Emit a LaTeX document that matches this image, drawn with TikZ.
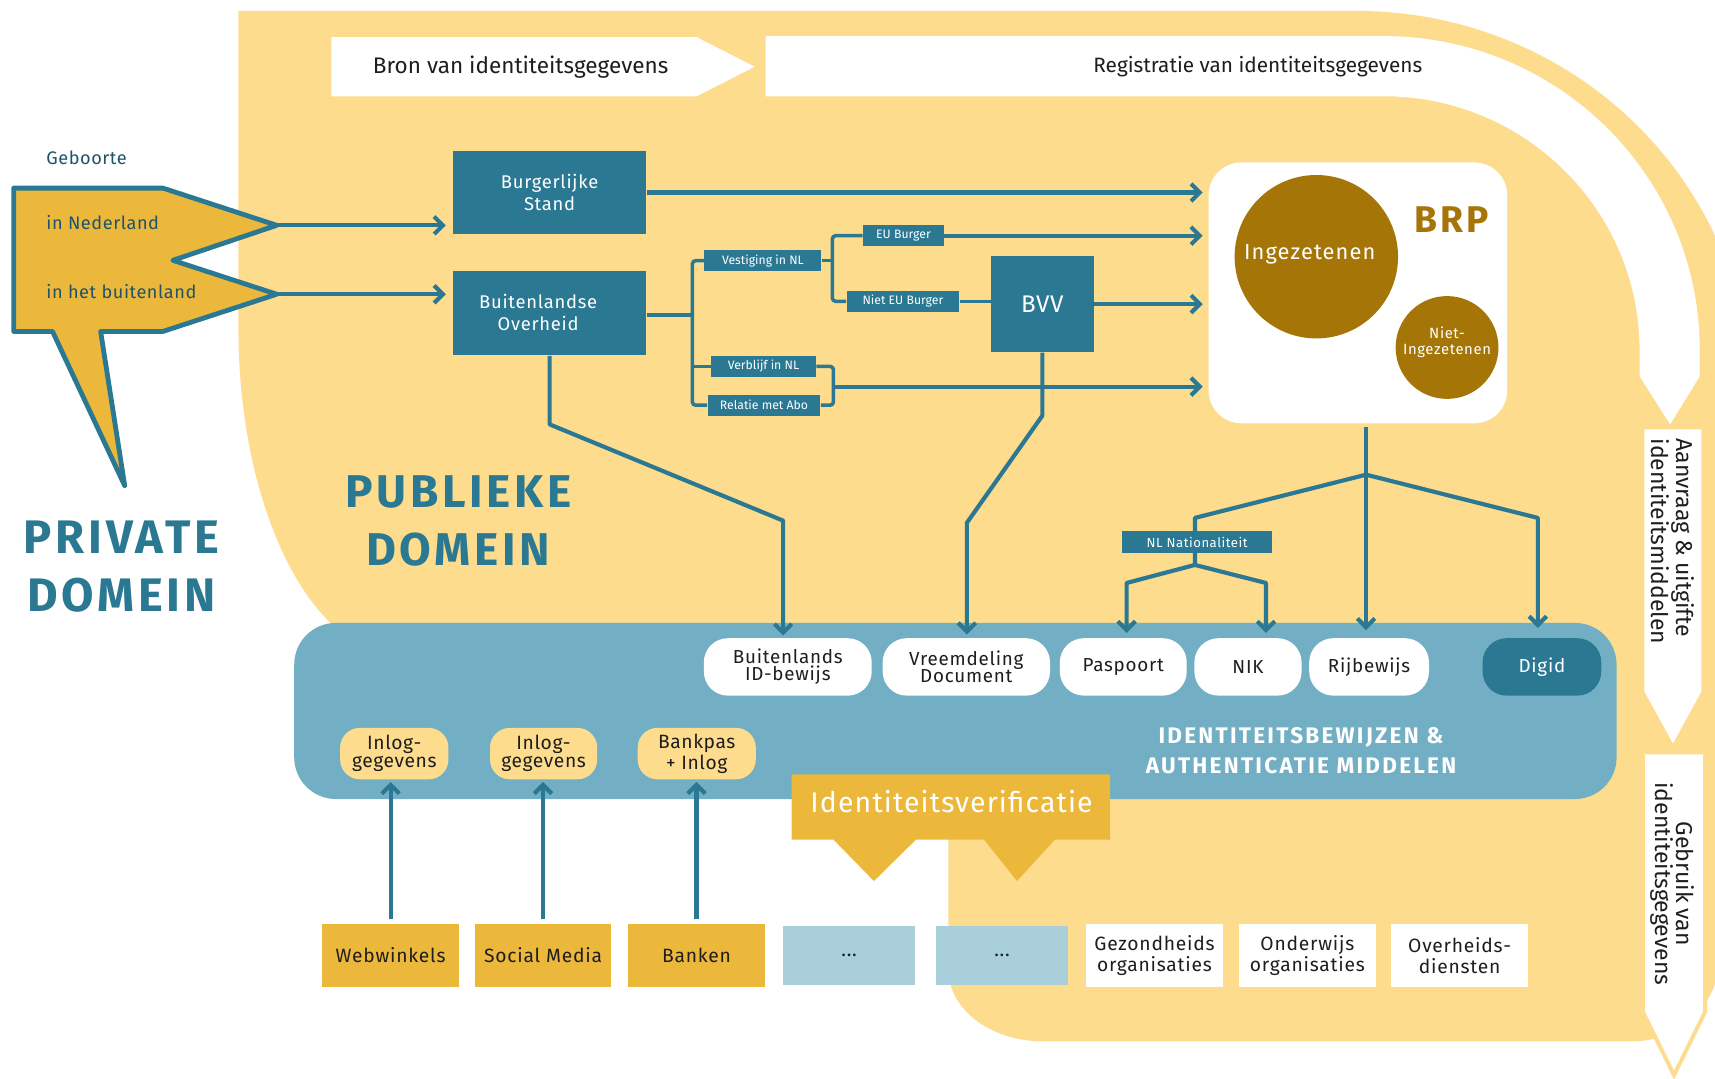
\documentclass[tikz,border=0pt]{standalone}
\usepackage{fontspec}
\setmainfont{Fira Sans}
\usetikzlibrary{arrows.meta}
\definecolor{ylight}{HTML}{FDDC8E}
\definecolor{ydark}{HTML}{ECB83C}
\definecolor{tealc}{HTML}{2B7893}
\definecolor{lblue}{HTML}{72AFC4}
\definecolor{pblue}{HTML}{A9D0DA}
\definecolor{goldc}{HTML}{A67508}
\definecolor{dtext}{HTML}{1E1E1E}
\definecolor{ttext}{HTML}{1F5468}
\newcommand{\fsz}[2]{\fontsize{#1}{#2}\selectfont}
\newcommand{\lsp}[1]{\addfontfeatures{LetterSpace=#1}}
\pgfdeclarelayer{back}
\pgfdeclarelayer{mid}
\pgfsetlayers{back,mid,main}
\begin{document}
\begin{tikzpicture}[x=0.5pt,y=-0.5pt,
  conn/.style={draw=tealc, line width=1.9pt, line join=round},
  thinc/.style={draw=tealc, line width=1.6pt, line join=round, rounded corners=1.5pt},
  arr/.style={-{Straight Barb[length=4pt,width=8pt]}},
  tealbox/.style={fill=tealc, text=white, inner sep=0pt},
  lab/.style={tealbox, font=\fsz{5.6}{6}},
  wbox/.style={fill=white, rounded corners=11pt, inner sep=0pt, text=dtext, align=center, font=\fsz{8.6}{7.9}\lsp{4}, minimum height=26.25pt},
  ybox/.style={fill=ylight, rounded corners=9pt, inner sep=0pt, text=dtext, align=center, font=\fsz{8.8}{8.3}\lsp{3}, minimum height=23.5pt},
  bbox/.style={inner sep=0pt, text=dtext, align=center, font=\fsz{8.8}{9.4}\lsp{4}, minimum height=28.5pt},
  rtext/.style={rotate=-90, text=dtext, font=\fsz{10.5}{9.75}},
  ptext/.style={anchor=base west, inner sep=0pt, text=ttext, font=\fsz{8.3}{10}\lsp{3}},
]
\useasboundingbox (0,0) rectangle (1568,986);

\begin{pgfonlayer}{back}
\fill[white] (0,0) rectangle (1568,986);
\begin{scope}
\clip (0,0) rectangle (1568,986);
\fill[ylight] (218,10) -- (1240,10) .. controls (1438.8,10) and (1600,166.7) .. (1600,360)
  -- (1600,800) -- (1573,830) -- (1573,872) .. controls (1573,916.2) and (1537.2,952) .. (1493,952)
  -- (953,952) .. controls (905.5,952) and (867,922.5) .. (867,886)
  -- (867,650) -- (368,650) -- (368,600) .. controls (285.2,600) and (218,465.7) .. (218,300) -- cycle;
% registratie band
\fill[white] (700,33) -- (1265,33) .. controls (1424.6,33) and (1554,161.5) .. (1554,320)
  -- (1554,344) -- (1527,388) -- (1499,344) -- (1499,320)
  .. controls (1499,191.9) and (1394.2,88) .. (1265,88) -- (700,88) -- cycle;
% bron arrow
\fill[white] (303,34) -- (637,34) -- (690,61) -- (637,88) -- (303,88) -- cycle;
% right arrows
\filldraw[fill=white, draw=ylight, line width=1.5pt] (1502,391) -- (1557,391) -- (1557,633) -- (1529.5,683) -- (1502,633) -- cycle;
\filldraw[fill=white, draw=ylight, line width=1.8pt] (1502,688) -- (1559,688) -- (1559,925) -- (1530.5,983) -- (1502,925) -- cycle;
\end{scope}
% big blue box
\node[fill=lblue, rounded corners=19pt, minimum width=604.5pt, minimum height=80.5pt, inner sep=0pt] (ib) at (873.5,650) {};
\end{pgfonlayer}

\node[text=dtext, font=\fsz{10.3}{12}] (bron) at (476,61) {Bron van identiteitsgegevens};
\node[text=dtext, font=\fsz{9.5}{12}] (reg) at (1150,61) {Registratie van identiteitsgegevens};

% private shape
\filldraw[fill=ydark, draw=tealc, line width=2.2pt, line join=round]
  (12.5,172) -- (149,172) -- (253,206) -- (158,238) -- (253,269) -- (149,303) -- (92,303) -- (114,444) -- (48,303) -- (12.5,303) -- cycle;
\coordinate (tipA) at (253,206);
\coordinate (tipB) at (253,269);
\node[ptext] (gb) at (42,150) {Geboorte};
\node[ptext] (inl) at (42,210) {in Nederland};
\node[ptext] (ibl) at (42,273) {in het buitenland};

\node[text=tealc, font=\bfseries\fsz{21.5}{26.5}\lsp{8}, align=center] (priv) at (111,518) {PRIVATE\\DOMEIN};
\node[text=tealc, font=\bfseries\fsz{21}{26.5}\lsp{8}, align=center] (publ) at (419,476) {PUBLIEKE\\DOMEIN};

% source boxes
\node[tealbox, minimum width=88.5pt, minimum height=38pt, align=center, font=\fsz{8.4}{10}\lsp{4}] (bs) at (502.5,176) {Burgerlijke\\Stand};
\node[tealbox, minimum width=88.5pt, minimum height=38.5pt] (bo) at (502.5,286.5) {};
\node[text=white, align=center, font=\fsz{8.4}{10}\lsp{4}] (botext) at (492,286) {Buitenlandse\\Overheid};

\node[lab, minimum width=53.5pt, minimum height=9.25pt] (vest) at (697.5,238.25) {Vestiging in NL};
\node[lab, minimum width=37pt, minimum height=9.5pt] (eu) at (826,215.5) {EU Burger};
\node[lab, minimum width=51.5pt, minimum height=9.5pt] (neu) at (825.5,275.5) {Niet EU Burger};
\node[tealbox, minimum width=47pt, minimum height=44pt, font=\fsz{11}{12}\lsp{3}] (bvv) at (953,278) {BVV};
\node[lab, minimum width=48pt, minimum height=9.5pt] (verb) at (698,335) {Verblijf in NL};
\node[lab, minimum width=51.5pt, minimum height=9.5pt] (rel) at (698.5,370.5) {Relatie met Abo};

% BRP
\node[fill=white, rounded corners=15pt, minimum width=136.5pt, minimum height=119.25pt, inner sep=0pt] (brp) at (1241.5,267.75) {};
\node[circle, fill=goldc, minimum size=74.7pt, inner sep=0pt] (inz) at (1203.5,234.7) {};
\node[anchor=base, text=white, font=\fsz{10}{12}\lsp{5}] (inzt) at (1197.5,237) {Ingezetenen};
\node[circle, fill=goldc, minimum size=47pt, inner sep=0pt] (niet) at (1323,317.7) {};
\node[text=white, align=center, font=\fsz{6.8}{7.5}\lsp{4}] (niett) at (1323,313) {Niet-\\Ingezetenen};
\node[anchor=base, text=goldc, font=\bfseries\fsz{17}{20}\lsp{8}] (brpt) at (1327.5,213) {BRP};

\node[tealbox, minimum width=68.5pt, minimum height=10pt, font=\fsz{6}{7}\lsp{4}] (nln) at (1094.5,495.5) {NL Nationaliteit};

% identity documents
\node[wbox, minimum width=76.75pt] (bid) at (720.25,609.75) {Buitenlands\\ID-bewijs};
\node[wbox, minimum width=76.5pt] (vd) at (883.5,609.75) {Vreemdeling\\Document};
\node[wbox, minimum width=58pt] (pas) at (1027,609.75) {Paspoort};
\node[wbox, minimum width=49pt] (nik) at (1141,609.75) {NIK};
\node[wbox, minimum width=54.75pt] (rij) at (1251.75,609.75) {Rijbewijs};
\node[wbox, fill=tealc, text=white, minimum width=54.25pt] (dig) at (1409.75,609.75) {Digid};

\node[text=white, font=\bfseries\fsz{10.3}{13.75}\lsp{10}, align=center] (idt) at (1189.5,686.5) {IDENTITEITSBEWIJZEN \&\\AUTHENTICATIE MIDDELEN};

\node[ybox, minimum width=49.5pt] (il1) at (360.5,689) {Inlog-\\gegevens};
\node[ybox, minimum width=49pt] (il2) at (497,689) {Inlog-\\gegevens};
\node[ybox, minimum width=54pt] (bank) at (637,689) {Bankpas\\+ Inlog};

% identiteitsverificatie
\fill[ydark] (723.7,708) -- (1015,708) -- (1015,767.6) -- (964.6,767.6) -- (929.8,805.5) -- (899.6,767.6)
  -- (837.5,767.6) -- (799,805.5) -- (762,767.6) -- (723.7,767.6) -- cycle;
\node[anchor=base, text=white, font=\fsz{13}{15}\lsp{4}] (iv) at (870,743) {Identiteitsverificatie};

% bottom boxes
\node[bbox, fill=ydark, minimum width=62.7pt] (web) at (357.1,873.5) {Webwinkels};
\node[bbox, fill=ydark, minimum width=62.5pt] (soc) at (496.5,873.5) {Social Media};
\node[bbox, fill=ydark, minimum width=62.75pt] (ban) at (636.75,873.5) {Banken};
\node[bbox, fill=pblue, minimum width=60.3pt, minimum height=26.8pt] (d1) at (776.3,873.8) {...};
\node[bbox, fill=pblue, minimum width=60.4pt, minimum height=26.8pt] (d2) at (916.1,873.8) {...};
\node[bbox, fill=white, minimum width=62.5pt] (gez) at (1055.5,873.5) {Gezondheids\\organisaties};
\node[bbox, fill=white, minimum width=62.3pt] (ond) at (1195.3,873.5) {Onderwijs\\organisaties};
\node[bbox, fill=white, minimum width=62.5pt] (ovh) at (1334.5,873.5) {Overheids-\\diensten};

% rotated labels
\node[rtext, align=left] (aan) at (1529,495) {Aanvraag \& uitgifte\\identiteitsmiddelen};
\node[rtext, align=center] (geb) at (1529,808) {Gebruik van\\identiteitsgegevens};

% connectors
\begin{pgfonlayer}{mid}
\draw[conn,arr,shorten >=3pt] (tipA) -- (tipA -| bs.west);
\draw[conn,arr,shorten >=3pt] (tipB) -- (tipB -| bo.west);
\draw[conn,arr,shorten >=2.5pt] (bs.east) -- (bs.east -| brp.west);

\coordinate (bx) at (633,288);
\draw[conn] (bo.east |- bx) -- (bx);
\draw[thinc] (vest.west) -| (bx) |- (rel.west);
\draw[thinc] (bx |- verb.west) -- (verb.west);
\coordinate (vx) at (761,238.25);
\draw[thinc] (vest.east) -- (vx);
\draw[thinc] (eu.west) -| (vx) |- (neu.west);
\draw[conn,arr,shorten >=2.5pt] (eu.east) -- (eu.east -| brp.west);
\draw[thinc] (neu.east) -- (neu.east -| bvv.west);
\draw[conn,arr,shorten >=2.5pt] (bvv.east) -- (bvv.east -| brp.west);
\coordinate (rx) at (762,353.5);
\draw[thinc] (verb.east) -| (rx) |- (rel.east);
\draw[conn,arr,shorten >=2.5pt] (rx) -- (rx -| brp.west);

\coordinate (b1) at (502.5,388);
\coordinate (b2) at (716,476);
\draw[conn,arr,shorten >=1pt] (bo.south) -- (b1) -- (b2) -- (b2 |- bid.north);
\coordinate (v1) at (953,380);
\coordinate (v2) at (884,478);
\draw[conn,arr,shorten >=1.5pt] (bvv.south) -- (v1) -- (v2) -- (v2 |- vd.north);

\coordinate (J) at (1249,434);
\coordinate (L1) at (1092.5,473.5);
\coordinate (K) at (1092.5,516.5);
\coordinate (P1) at (1030,533);
\coordinate (N1) at (1157.5,533);
\coordinate (R1) at (1406,473.5);
\draw[conn] ([yshift=-1.5pt]J |- brp.south) -- (J);
\draw[conn] (J) -- (L1) -- (K);
\draw[conn,arr,shorten >=2.2pt] (K) -- (P1) -- (P1 |- pas.north);
\draw[conn,arr,shorten >=2.2pt] (K) -- (N1) -- (N1 |- nik.north);
\draw[conn,arr,shorten >=3.5pt] (J) -- (J |- rij.north);
\draw[conn,arr,shorten >=4.5pt] (J) -- (R1) -- (R1 |- dig.north);

\draw[conn,arr,shorten >=1pt,shorten <=2pt] (web.north) -- (web.north |- il1.south);
\draw[conn,arr,shorten >=1pt,shorten <=2pt] (soc.north) -- (soc.north |- il2.south);
\draw[conn,arr,shorten >=1pt,shorten <=2pt] (ban.north) -- (ban.north |- bank.south);
\end{pgfonlayer}
\end{tikzpicture}
\end{document}
